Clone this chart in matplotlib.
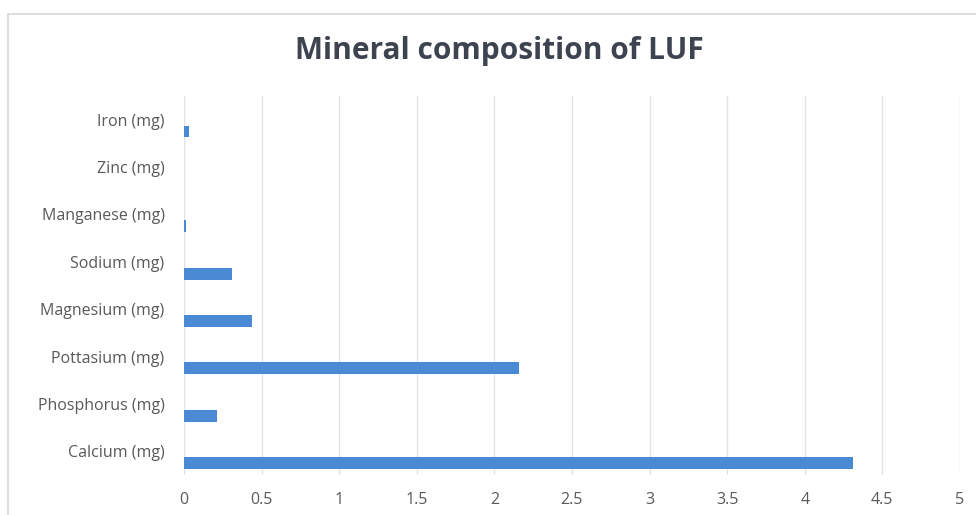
import matplotlib.pyplot as plt
from matplotlib.patches import Rectangle

# data
minerals = ["Calcium (mg)", "Phosphorus (mg)", "Pottasium (mg)", "Magnesium (mg)",
            "Sodium (mg)", "Manganese (mg)", "Zinc (mg)", "Iron (mg)"]
amounts = [4.31, 0.21, 2.16, 0.44, 0.31, 0.01, 0.003, 0.03]
x_ticks = [0, 0.5, 1, 1.5, 2, 2.5, 3, 3.5, 4, 4.5, 5]
x_tick_labels = ["0", "0.5", "1", "1.5", "2", "2.5", "3", "3.5", "4", "4.5", "5"]

plt.rcParams['font.family'] = ['Open Sans', 'DejaVu Sans']
text_col = '#595959'

fig = plt.figure(figsize=(9.76, 5.15), dpi=100)
ax = fig.add_axes([0.1885, 0.0777, 0.795, 0.736])

# chart border (only top/left visible in the crop)
fig.patches.append(Rectangle((8 / 976, -0.1), 1.2, 1 - 14 / 515 + 0.1,
                             transform=fig.transFigure, fill=False,
                             edgecolor='#d9d9d9', linewidth=1.2))

pos = list(range(len(minerals)))
# bars sit below the category label, like an Excel clustered bar with an empty series
ax.barh([p - 0.25 for p in pos], amounts, height=0.25, color='#4a89d4', zorder=3)

ax.set_xlim(0, 5)
ax.set_ylim(-0.5, len(minerals) - 0.5)
ax.set_xticks(x_ticks)
ax.set_xticklabels(x_tick_labels)
ax.set_yticks(pos)
ax.set_yticklabels(minerals)
ax.tick_params(axis='both', length=0, labelsize=11.5, labelcolor=text_col)
ax.tick_params(axis='x', pad=12)
ax.tick_params(axis='y', pad=14)
ax.grid(axis='x', color='#e3e3e3', linewidth=1, zorder=0)
for s in ax.spines.values():
    s.set_visible(False)

fig.text(0.512, 1 - 51 / 515, "Mineral composition of LUF", ha='center', va='center',
         fontsize=21.5, fontweight='bold', color='#3d4450')

fig.savefig("out.png", dpi=100)
